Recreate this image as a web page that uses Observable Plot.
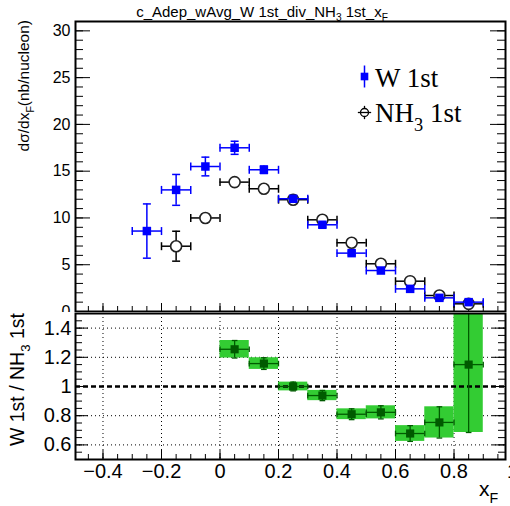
<!DOCTYPE html>
<html><head><meta charset="utf-8">
<script src="https://cdn.jsdelivr.net/npm/d3@7"></script>
<script src="https://cdn.jsdelivr.net/npm/@observablehq/plot@0.6"></script>
<style>
body{margin:0;background:#fff;}
#c{position:relative;width:510px;height:506px;overflow:hidden;background:#fff;}
#c svg{position:absolute;left:0;background:#fff;overflow:hidden;}
</style></head><body><div id="c"></div>
<script>
// ---- data ----
const binHalfWidth = 0.05;
const wX      = [-0.25, -0.15, -0.05, 0.05, 0.15, 0.25, 0.35, 0.45, 0.55, 0.65, 0.75, 0.85];
const wValues = [8.6, 13.0, 15.5, 17.5, 15.15, 12.05, 9.27, 6.24, 4.38, 2.42, 1.46, 1.0];
const wErrors = [2.9, 1.65, 1.0, 0.7, 0.4, 0.3, 0.25, 0.2, 0.15, 0.12, 0.1, 0.1];
const nhX      = [-0.15, -0.05, 0.05, 0.15, 0.25, 0.35, 0.45, 0.55, 0.65, 0.75, 0.85];
const nhValues = [6.98, 10.0, 13.83, 13.12, 11.95, 9.8, 7.35, 5.1, 3.24, 1.71, 0.82];
const nhErrors = [1.6, 0.4, 0.35, 0.3, 0.3, 0.25, 0.2, 0.15, 0.12, 0.1, 0.1];
const ratioX      = [0.05, 0.15, 0.25, 0.35, 0.45, 0.55, 0.65, 0.75, 0.85];
const ratioValues = [1.255, 1.157, 1.0, 0.938, 0.81, 0.823, 0.678, 0.754, 1.15];
const ratioErrors = [0.06, 0.04, 0.03, 0.035, 0.037, 0.045, 0.054, 0.107, 0.465];

// ---- axis ticks ----
const xTicks = [-0.4, -0.2, 0, 0.2, 0.4, 0.6, 0.8, 1];
const xGridTicks = [-0.4, -0.2, 0, 0.2, 0.4, 0.6, 0.8];
const xMinorTicks = d3.range(-9, 20).map(i => +(i * 0.05).toFixed(2));
const yTopTicks = [0, 5, 10, 15, 20, 25, 30];
const yTopMinor = d3.range(0, 32);
const yBotTicks = [0.6, 0.8, 1, 1.2, 1.4];
const yBotMinor = d3.range(10, 31).map(i => +(i * 0.05).toFixed(2));

const wData = wX.map((x, i) => ({x, v: wValues[i], e: wErrors[i]}));
const nhData = nhX.map((x, i) => ({x, v: nhValues[i], e: nhErrors[i]}));
const ratioData = ratioX.map((x, i) => ({x, v: ratioValues[i], e: ratioErrors[i]}));

const xDomain = [-0.494, 0.976];
const fmt = d3.format("~g");
const SANS = "Liberation Sans, Arial, Helvetica, sans-serif";
const SERIF = "Liberation Serif, Times New Roman, serif";

const vbar = {draw(ctx, size) { const h = Math.sqrt(size) / 2; ctx.moveTo(0, -h); ctx.lineTo(0, h); }};
const hbar = {draw(ctx, size) { const h = Math.sqrt(size) / 2; ctx.moveTo(-h, 0); ctx.lineTo(h, 0); }};

function errorMarks(data, color, sw, capR, clip = false) {
  return [
    Plot.ruleY(data, {y: "v", x1: d => d.x - binHalfWidth, x2: d => d.x + binHalfWidth, stroke: color, strokeWidth: sw, clip}),
    Plot.ruleX(data, {x: "x", y1: d => d.v - d.e, y2: d => d.v + d.e, stroke: color, strokeWidth: sw, clip}),
    Plot.dot(data, {x: d => d.x - binHalfWidth, y: "v", symbol: vbar, r: capR, stroke: color, fill: "none", strokeWidth: sw, clip}),
    Plot.dot(data, {x: d => d.x + binHalfWidth, y: "v", symbol: vbar, r: capR, stroke: color, fill: "none", strokeWidth: sw, clip}),
    Plot.dot(data, {x: "x", y: d => d.v - d.e, symbol: hbar, r: capR, stroke: color, fill: "none", strokeWidth: sw, clip}),
    Plot.dot(data, {x: "x", y: d => d.v + d.e, symbol: hbar, r: capR, stroke: color, fill: "none", strokeWidth: sw, clip})
  ];
}

// ---- top panel ----
const topInnerW = 510 - 75 - 5;
const topInnerH = 312 - 21 - 1;
const topPlot = Plot.plot({
  width: 510, height: 312,
  marginLeft: 75, marginRight: 5, marginTop: 21, marginBottom: 1,
  style: {fontFamily: SANS, background: "#fff"},
  x: {domain: xDomain, axis: null},
  y: {domain: [0, 31.0], axis: null},
  marks: [
    Plot.ruleY(yTopMinor, {insetRight: topInnerW - 8, stroke: "black", strokeWidth: 1}),
    Plot.ruleY(yTopTicks, {insetRight: topInnerW - 15, stroke: "black", strokeWidth: 1}),
    Plot.ruleY(yTopMinor, {insetLeft: topInnerW - 8, stroke: "black", strokeWidth: 1}),
    Plot.ruleY(yTopTicks, {insetLeft: topInnerW - 15, stroke: "black", strokeWidth: 1}),
    Plot.ruleX(xMinorTicks, {insetTop: topInnerH - 5, stroke: "black", strokeWidth: 1}),
    Plot.ruleX(xTicks, {insetTop: topInnerH - 8, stroke: "black", strokeWidth: 1}),
    Plot.axisY(yTopTicks, {anchor: "left", tickSize: 0, tickPadding: 5, fontSize: 16, label: null, tickFormat: fmt}),
    ...errorMarks(nhData, "black", 1.5, 4.5),
    Plot.dot(nhData, {x: "x", y: "v", r: 5.5, stroke: "#222", strokeWidth: 1.6, fill: "white"}),
    ...errorMarks(wData, "blue", 1.5, 4.5),
    Plot.dot(wData, {x: "x", y: "v", symbol: "square", r: 4.8, fill: "blue", stroke: "none"}),
    // legend markers
    Plot.dot([0], {frameAnchor: "top-left", dx: 289, dy: 55, symbol: vbar, r: 12.4, stroke: "blue", strokeWidth: 1.5, fill: "none"}),
    Plot.dot([0], {frameAnchor: "top-left", dx: 289, dy: 55, symbol: "square", r: 4.3, fill: "blue", stroke: "none"}),
    Plot.dot([0], {frameAnchor: "top-left", dx: 289, dy: 91, symbol: vbar, r: 7.5, stroke: "black", strokeWidth: 1.3, fill: "none"}),
    Plot.dot([0], {frameAnchor: "top-left", dx: 289, dy: 91, r: 4, stroke: "black", strokeWidth: 1.3, fill: "white"}),
    Plot.dot([0], {frameAnchor: "top-left", dx: 289, dy: 91, symbol: hbar, r: 7.5, stroke: "black", strokeWidth: 1.3, fill: "none"}),
    Plot.frame({stroke: "black", strokeWidth: 2})
  ]
});

// ---- ratio panel ----
const botInnerW = 510 - 75 - 5;
const botInnerH = 194 - 1 - 47;
const botPlot = Plot.plot({
  width: 510, height: 194,
  marginLeft: 75, marginRight: 5, marginTop: 1, marginBottom: 47,
  style: {fontFamily: SANS, background: "#fff"},
  x: {domain: xDomain, axis: null},
  y: {domain: [0.5, 1.5], axis: null},
  marks: [
    Plot.gridX(xGridTicks, {stroke: "black", strokeOpacity: 1, strokeWidth: 1, strokeDasharray: "1,3"}),
    Plot.gridY(yBotTicks, {stroke: "black", strokeOpacity: 1, strokeWidth: 1, strokeDasharray: "1,3"}),
    Plot.rect(ratioData, {x1: d => d.x - binHalfWidth, x2: d => d.x + binHalfWidth, y1: d => d.v - d.e, y2: d => d.v + d.e, fill: "#33cc33", clip: true}),
    Plot.ruleY([1], {stroke: "black", strokeWidth: 2.5, strokeDasharray: "5,3"}),
    ...errorMarks(ratioData, "#005a00", 1.3, 3.2, true),
    Plot.dot(ratioData, {x: "x", y: "v", symbol: "square", r: 4.6, fill: "#005a00", stroke: "none"}),
    Plot.ruleY(yBotMinor, {insetRight: botInnerW - 7, stroke: "black", strokeWidth: 1}),
    Plot.ruleY(yBotTicks, {insetRight: botInnerW - 13, stroke: "black", strokeWidth: 1}),
    Plot.ruleY(yBotMinor, {insetLeft: botInnerW - 7, stroke: "black", strokeWidth: 1}),
    Plot.ruleY(yBotTicks, {insetLeft: botInnerW - 13, stroke: "black", strokeWidth: 1}),
    Plot.ruleX(xMinorTicks.filter(v => v >= xDomain[0] && v <= xDomain[1]), {insetTop: botInnerH - 5, stroke: "black", strokeWidth: 1}),
    Plot.ruleX(xTicks.filter(v => v <= xDomain[1]), {insetTop: botInnerH - 9, stroke: "black", strokeWidth: 1}),
    Plot.axisY(yBotTicks, {anchor: "left", tickSize: 0, tickPadding: 4, fontSize: 20, label: null, tickFormat: fmt}),
    Plot.axisX(xTicks, {anchor: "bottom", tickSize: 0, tickPadding: 4, fontSize: 20, label: null, tickFormat: fmt}),
    Plot.frame({stroke: "black", strokeWidth: 2})
  ]
});

topPlot.style.top = "0px";
botPlot.style.top = "312px";
const c = document.getElementById("c");
c.appendChild(topPlot);
c.appendChild(botPlot);

// ---- text annotations with sub-scripts ----
function addText(svg, parts, {x, y, size, family = SANS, anchor = "start", rotate = 0}) {
  const t = d3.select(svg).append("text")
    .attr("transform", `translate(${x},${y}) rotate(${rotate})`)
    .attr("text-anchor", anchor).attr("font-size", size)
    .attr("font-family", family).attr("fill", "black");
  let shifted = 0;
  for (const p of parts) {
    const ts = t.append("tspan").text(p.t);
    const target = p.sub ? size * 0.32 : 0;
    if (target !== shifted) { ts.attr("dy", target - shifted); shifted = target; }
    if (p.sub) ts.attr("font-size", size * 0.68);
  }
}
addText(topPlot, [{t: "c_Adep_wAvg_W 1st_div_NH"}, {t: "3", sub: true}, {t: " 1st_x"}, {t: "F", sub: true}],
  {x: 262, y: 16.5, size: 15, anchor: "middle"});
addText(topPlot, [{t: "dσ/dx"}, {t: "F", sub: true}, {t: "(nb/nucleon)"}],
  {x: 29, y: 20, size: 15.5, anchor: "end", rotate: -90});
addText(topPlot, [{t: "W 1st"}], {x: 375, y: 86.5, size: 27, family: SERIF});
addText(topPlot, [{t: "NH"}, {t: "3", sub: true}, {t: " 1st"}], {x: 375, y: 122, size: 27, family: SERIF});
addText(botPlot, [{t: "W 1st / NH"}, {t: "3", sub: true}, {t: " 1st"}],
  {x: 24, y: 1, size: 19.5, anchor: "end", rotate: -90});
addText(botPlot, [{t: "x"}, {t: "F", sub: true}], {x: 479, y: 184, size: 21});
</script></body></html>
